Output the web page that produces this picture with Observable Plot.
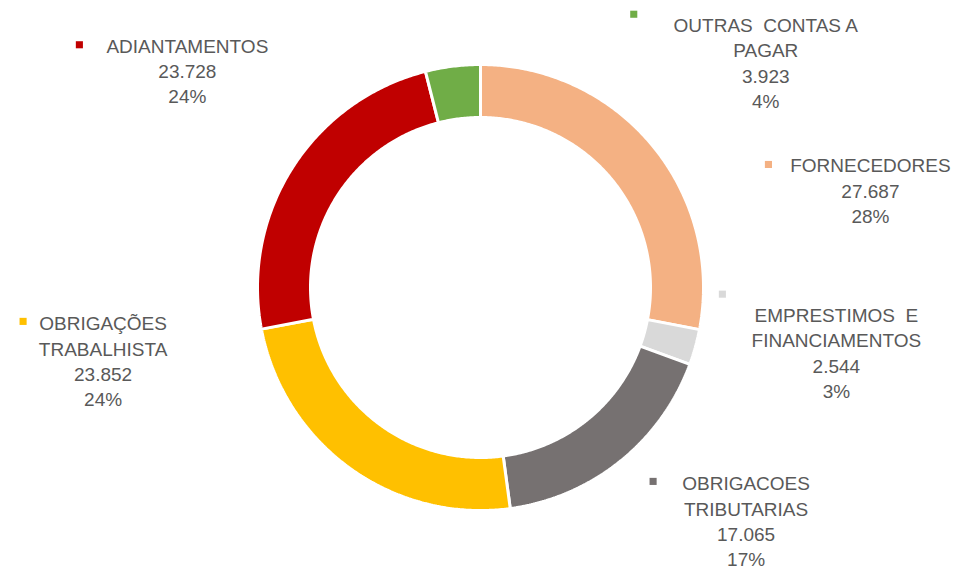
<!DOCTYPE html>
<html>
<head>
<meta charset="utf-8">
<script src="https://cdn.jsdelivr.net/npm/d3@7"></script>
<script src="https://cdn.jsdelivr.net/npm/@observablehq/plot@0.6"></script>
<style>
  html, body { margin: 0; padding: 0; background: #ffffff; }
  #chart svg text { white-space: pre; }
</style>
</head>
<body>
<div id="chart"></div>
<script>
// ---- data ----
const categories = ["FORNECEDORES", "EMPRESTIMOS E FINANCIAMENTOS", "OBRIGACOES TRIBUTARIAS", "OBRIGAÇÕES TRABALHISTA", "ADIANTAMENTOS", "OUTRAS CONTAS A PAGAR"];
const values = [27687, 2544, 17065, 23852, 23728, 3923];
const labelNames = ["FORNECEDORES", "EMPRESTIMOS  E\nFINANCIAMENTOS", "OBRIGACOES\nTRIBUTARIAS", "OBRIGAÇÕES\nTRABALHISTA", "ADIANTAMENTOS", "OUTRAS  CONTAS A\nPAGAR"];
const colors = ["#F4B183", "#D9D9D9", "#767171", "#FFC000", "#C00000", "#70AD47"];

// ---- layout (pixels) ----
const W = 960, H = 570;
const cx = 480, cy = 287, R = 223, rInner = 170;
const labelShift = [[218, 21], [141, -31], [126, 23], [-247, -144], [-105, -121], [313, -40]];
const keyShift = [[-102, -2], [-114, -22], [-93, -3], [-80, -3], [-108, -2], [-132, -12]];
const fontSize = 19, lineH = 25.3;

const fmt = d3.formatLocale({decimal: ",", thousands: ".", grouping: [3], currency: ["R$", ""]}).format(",d");
const total = d3.sum(values);
const rows = categories.map((c, i) => ({name: c, value: values[i], i}));
const arcs = d3.pie().sort(null).value(d => d.value)(rows);

// slice polygons in unit coordinates (1 = outer radius)
const k = rInner / R;
const poly = [];
for (const a of arcs) {
  const n = Math.max(4, Math.ceil((a.endAngle - a.startAngle) / (Math.PI / 360)));
  for (let j = 0; j <= n; j++) {
    const t = a.startAngle + (a.endAngle - a.startAngle) * j / n;
    poly.push({name: a.data.name, x: Math.sin(t), y: -Math.cos(t)});
  }
  for (let j = n; j >= 0; j--) {
    const t = a.startAngle + (a.endAngle - a.startAngle) * j / n;
    poly.push({name: a.data.name, x: k * Math.sin(t), y: -k * Math.cos(t)});
  }
}

// labels anchored at slice mid-angle on the outer edge, shifted
const labels = arcs.map(a => {
  const i = a.data.i;
  const m = (a.startAngle + a.endAngle) / 2;
  const mx = Math.sin(m), my = -Math.cos(m);
  const lx = mx + labelShift[i][0] / R;
  const ly = my + labelShift[i][1] / R;
  return {
    name: a.data.name,
    text: labelNames[i] + "\n" + fmt(a.data.value) + "\n" + Math.round(a.data.value / total * 100) + "%",
    x: lx, y: ly - 12 / R,
    kx: lx + keyShift[i][0] / R, ky: ly + keyShift[i][1] / R
  };
});

const chart = Plot.plot({
  width: W, height: H,
  margin: 0,
  style: {background: "#ffffff", fontFamily: "'Liberation Sans', Arial, sans-serif"},
  x: {domain: [-cx / R, (W - cx) / R], range: [0, W], axis: null},
  y: {domain: [-cy / R, (H - cy) / R], range: [0, H], axis: null},
  color: {type: "ordinal", domain: categories, range: colors},
  marks: [
    Plot.line(poly, {x: "x", y: "y", z: "name", fill: "name", stroke: "#ffffff", strokeWidth: 3, curve: "linear-closed", strokeLinejoin: "miter"}),
    Plot.dot(labels, {x: "kx", y: "ky", symbol: "square", r: 4, fill: "name", stroke: null}),
    Plot.text(labels, {x: "x", y: "y", text: "text", fill: "#595959", fontSize: fontSize, lineAnchor: "top", lineHeight: lineH / fontSize, textAnchor: "middle"})
  ]
});
document.getElementById("chart").appendChild(chart);
</script>
</body>
</html>
